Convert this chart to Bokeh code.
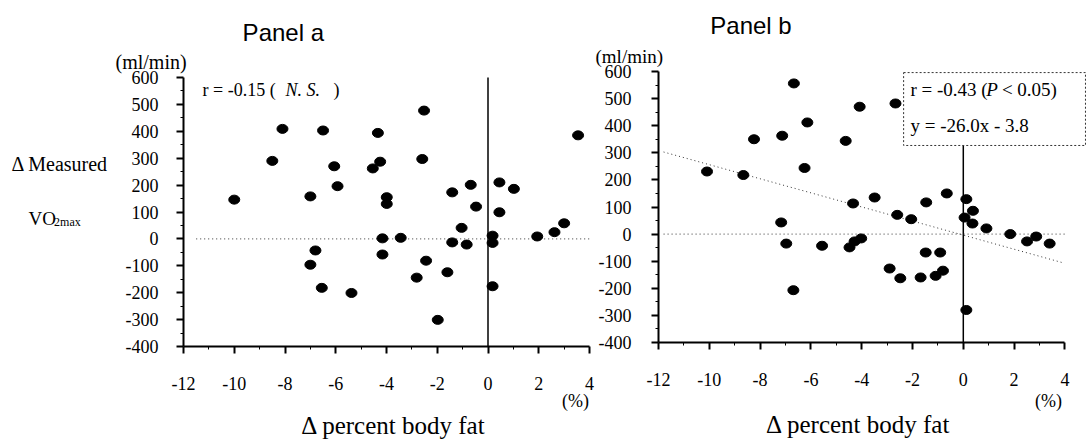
from bokeh.plotting import figure
from bokeh.models import Range1d, FixedTicker, Label, LinearAxis
from bokeh.embed import file_html
from bokeh.resources import INLINE

# ---------------- data ----------------
x_ticks = [-12, -10, -8, -6, -4, -2, 0, 2, 4]
x_tick_labels = ["-12", "-10", "-8", "-6", "-4", "-2", "0", "2", "4"]
x_minor = [-11, -9, -7, -5, -3, -1, 1, 3]
y_ticks = [-400, -300, -200, -100, 0, 100, 200, 300, 400, 500, 600]
y_tick_labels = ["-400", "-300", "-200", "-100", "0", "100", "200", "300", "400", "500", "600"]
y_minor = [-350, -250, -150, -50, 50, 150, 250, 350, 450, 550]

# Panel a: change in % body fat vs change in measured VO2max (ml/min)
a_dfat = [-10.0, -8.5, -8.1, -7.0, -6.8, -7.0, -6.5, -6.55, -6.06, -5.93, -5.38,
          -4.34, -4.54, -4.25, -3.99, -3.99, -4.16, -4.16, -3.44, -2.52, -2.59,
          -2.44, -2.81, -1.6, -1.98, -1.41, -1.41, -0.68, -0.47, -1.04, -0.84,
          0.45, 1.02, 0.45, 0.18, 0.18, 0.18, 1.94, 2.62, 3.0, 3.55]
a_dvo2 = [146, 290, 409, 158, -43, -96, 403, -182, 270, 196, -201,
          394, 262, 287, 155, 130, 2, -58, 4, 477, 297,
          -81, -144, -124, -301, 173, -13, 201, 120, 41, -21,
          210, 186, 99, 12, -15, -176, 9, 25, 58, 385]

# Panel b
b_dfat = [-10.09, -8.66, -8.24, -7.13, -6.67, -7.17, -6.97, -6.69, -6.14, -6.25,
          -4.08, -2.67, -4.63, -4.34, -3.49, -2.60, -2.05, -1.46, -0.65, -5.56,
          -4.48, -4.28, -4.02, -1.48, -0.91, -2.90, -2.48, -1.68, -1.09, -0.80,
          0.12, 0.38, 0.05, 0.36, 0.91, 1.85, 2.51, 2.87, 3.40, 0.12]
b_dvo2 = [231, 218, 350, 363, 556, 43, -35, -207, 412, 244,
          470, 482, 344, 113, 135, 71, 55, 117, 150, -43,
          -49, -27, -16, -68, -68, -127, -163, -160, -154, -135,
          129, 86, 61, 39, 21, 0, -27, -9, -35, -280]

# regression printed in panel b: y = -26.0x - 3.8
b_slope = -26.0
b_intercept = -3.8
b_fit_x = [-11.8, 3.9]
b_fit_y = [b_slope * v + b_intercept for v in b_fit_x]

X_MIN, X_MAX = -12, 4
Y_MIN, Y_MAX = -400, 600

SERIF = "Liberation Serif"
SANS = "Liberation Sans"

W, H = 1086, 446

# page layout of the two plotting areas (pixels)
# panel a: x=-12 at 183 px, 25.375 px per unit; y=600 at 77 px, 0.269 px per unit
# panel b: x=-12 at 658 px, 25.4 px per unit;  y=600 at 71 px, 0.271 px per unit
def x_range_for(left_px, ppu):
    start = X_MIN - left_px / ppu
    return Range1d(start, start + W / ppu)


def y_range_for(top_px, ppu):
    end = Y_MAX + top_px / ppu
    return Range1d(end - H / ppu, end)


p = figure(width=W, height=H, x_range=x_range_for(183, 25.375), y_range=y_range_for(77, 0.269),
           output_backend="svg", toolbar_location=None,
           x_axis_location=None, y_axis_location=None,
           min_border_left=0, min_border_right=0, min_border_top=0, min_border_bottom=0)
p.extra_x_ranges = {"b": x_range_for(658, 25.4)}
p.extra_y_ranges = {"b": y_range_for(71, 0.271)}
p.grid.visible = False
p.outline_line_color = None
p.background_fill_color = "white"
p.border_fill_color = "white"


def add_axes(rn, y_standoff):
    kw = {} if rn is None else dict(x_range_name=rn, y_range_name=rn)
    yax = LinearAxis(fixed_location=X_MIN, bounds=(Y_MIN, Y_MAX),
                     ticker=FixedTicker(ticks=y_ticks, minor_ticks=y_minor),
                     major_label_overrides={t: s for t, s in zip(y_ticks, y_tick_labels)}, **kw)
    xax = LinearAxis(fixed_location=Y_MIN, bounds=(X_MIN, X_MAX),
                     ticker=FixedTicker(ticks=x_ticks, minor_ticks=x_minor),
                     major_label_overrides={t: s for t, s in zip(x_ticks, x_tick_labels)}, **kw)
    for ax in (xax, yax):
        ax.axis_line_width = 2
        ax.axis_line_color = "black"
        ax.major_tick_line_color = "black"
        ax.minor_tick_line_color = "black"
        ax.major_tick_line_width = 2
        ax.major_tick_in = 0
        ax.major_tick_out = 7
        ax.minor_tick_in = 0
        ax.minor_tick_out = 3
        ax.major_label_text_font = SERIF
        ax.major_label_text_font_size = "18px"
        ax.major_label_text_color = "black"
    xax.major_label_standoff = 23
    yax.major_label_standoff = y_standoff
    p.add_layout(yax, "left")
    p.add_layout(xax, "below")


def lab(x, y, text, size="18px", font=SERIF, align="left", style_="normal", rn=None):
    kw = {} if rn is None else dict(x_range_name=rn, y_range_name=rn)
    p.add_layout(Label(x=x, y=y, text=text, text_font=font, text_font_size=size,
                       text_align=align, text_baseline="middle", text_color="black",
                       text_font_style=style_, **kw))


# ---------------- panel a ----------------
add_axes(None, 18)
p.segment(x0=0, y0=Y_MIN, x1=0, y1=Y_MAX, line_color="black", line_width=1.5)
p.segment(x0=-11.5, y0=0, x1=X_MAX, y1=0, line_color="#333333", line_width=1, line_dash="1 3")
p.ellipse(x=a_dfat, y=a_dvo2, width=11, height=9, width_units="screen", height_units="screen",
          fill_color="black", line_color="black")

lab(-9.67, 767, "Panel a", size="24px", font=SANS)
lab(-14.68, 656, "(ml/min)", size="20px")
lab(-18.78, 280, "Δ Measured", size="20px")
lab(-18.11, 76, "VO", size="19px")
lab(-17.1, 62, "2max", size="12px")
lab(3.45, -603, "(%)", size="18px", align="center")
lab(-3.72, -694, "Δ percent body fat", size="25px", align="center")
lab(-11.25, 552, "r = -0.15 (", size="18px")
lab(-7.98, 552, "N. S.", size="18px", style_="italic")
lab(-6.09, 552, ")", size="18px")

# ---------------- panel b ----------------
add_axes("b", 20)
BOX_BOTTOM = 327
p.segment(x0=0, y0=Y_MIN, x1=0, y1=BOX_BOTTOM, line_color="black", line_width=1.5,
          x_range_name="b", y_range_name="b")
p.segment(x0=-11.8, y0=0, x1=X_MAX, y1=0, line_color="#333333", line_width=1, line_dash="1 3",
          x_range_name="b", y_range_name="b")
p.line(x=b_fit_x, y=b_fit_y, line_color="#333333", line_width=1, line_dash="1 3",
       x_range_name="b", y_range_name="b")
p.quad(left=-2.35, right=4.81, bottom=BOX_BOTTOM, top=596, fill_color="white",
       line_color="#333333", line_width=1, line_dash="2 2", x_range_name="b", y_range_name="b")
p.ellipse(x=b_dfat, y=b_dvo2, width=11, height=9, width_units="screen", height_units="screen",
          fill_color="black", line_color="black", x_range_name="b", y_range_name="b")

lab(-9.96, 770, "Panel b", size="24px", font=SANS, rn="b")
lab(-14.48, 654, "(ml/min)", size="19px", rn="b")
lab(3.35, -616, "(%)", size="18px", align="center", rn="b")
lab(-4.13, -703, "Δ percent body fat", size="25px", align="center", rn="b")
lab(-2.08, 534, "r = -0.43 (", size="19px", rn="b")
lab(0.9, 534, "P", size="19px", style_="italic", rn="b")
lab(1.52, 534, "< 0.05)", size="19px", rn="b")
lab(-2.08, 401, "y = -26.0x  - 3.8", size="19px", rn="b")

open("out.html", "w").write(file_html(p, INLINE))
